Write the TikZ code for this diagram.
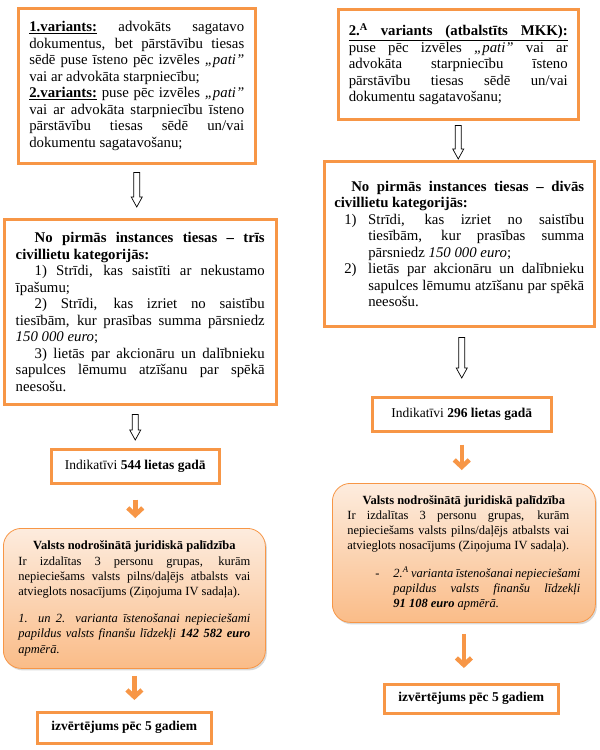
\documentclass[tikz,border=0pt]{standalone}
\usepackage{fontspec}
\setmainfont{Liberation Serif}
\usepackage{tikz}
\usetikzlibrary{arrows.meta,shadows,calc}
\definecolor{boxorange}{RGB}{247,150,70}
\definecolor{peachtop}{RGB}{253,236,222}
\definecolor{peachbot}{RGB}{250,188,136}
\newcommand{\ind}{\hspace*{19pt}}

\begin{document}
\hyphenpenalty=10000 \exhyphenpenalty=10000 \tolerance=9999
\begin{tikzpicture}[x=1pt,y=-1pt,
  var/.style={draw=boxorange,line width=2.5pt,fill=white,anchor=north west,align=justify,inner ysep=0pt,font=\fontsize{14.8pt}{16.5pt}\selectfont},
  cnt/.style={draw=boxorange,line width=2.5pt,fill=white,anchor=north west,align=center,inner sep=0pt,font=\fontsize{13.5pt}{16pt}\selectfont},
  lp/.style={draw=boxorange,line width=0.8pt,rounded corners=18pt,top color=peachtop,bottom color=peachbot,
    drop shadow={shadow xshift=1.5pt,shadow yshift=-2pt,opacity=0.3},anchor=north west,align=justify,inner ysep=0pt,
    font=\fontsize{12.5pt}{15.2pt}\selectfont},
  ha/.style={line width=0.7pt,to path={let \p1=(\tikztostart), \p2=(\tikztotarget) in
    (\x1-3pt,\y1) -- (\x1-3pt,\y2+10pt) -- (\x1-5.5pt,\y2+10pt) -- (\x1,\y2) -- (\x1+5.5pt,\y2+10pt) -- (\x1+3pt,\y2+10pt) -- (\x1+3pt,\y1) -- cycle}},
  oa/.style={draw=boxorange,line width=4.5pt,-{Straight Barb[length=7pt,width=15pt]}}]
  \useasboundingbox (0,0) rectangle (600,750);
  % left column
  \node[var,text width=215pt,inner xsep=11pt,minimum height=155pt] (v1) at (17,7) {\parindent=0pt
    \underline{\textbf{1.variants:}} advokāts sagatavo\linebreak
    dokumentus, bet pārstāvību tiesas\linebreak
    sēdē puse īsteno pēc izvēles \textit{„pati”}\linebreak
    vai ar advokāta starpniecību;\par
    \underline{\textbf{2.variants:}} puse pēc izvēles \textit{„pati”}\linebreak
    vai ar advokāta starpniecību īsteno\linebreak
    pārstāvību tiesas sēdē un/vai\linebreak
    dokumentu sagatavošanu;\par\vspace*{12pt}};
  \node[var,text width=249pt,inner xsep=11.5pt,minimum height=185pt] (cat1) at (3,218) {\parindent=0pt
    \ind\textbf{No pirmās instances tiesas – trīs\linebreak civillietu kategorijās:}\par
    \ind 1) Strīdi, kas saistīti ar nekustamo\linebreak īpašumu;\par
    \ind 2) Strīdi, kas izriet no saistību\linebreak tiesībām, kur prasības summa pārsniedz\linebreak \textit{150 000 euro};\par
    \ind 3) lietās par akcionāru un dalībnieku\linebreak sapulces lēmumu atzīšanu par spēkā\linebreak neesošu.\par\vspace*{5pt}};
  \node[cnt,minimum width=168pt,minimum height=34pt] (n1) at (50,448) {Indikatīvi \textbf{544 lietas gadā}};
  \node[lp,text width=232pt,inner xsep=15pt,minimum height=140pt] (lp1) at (3,528) {\parindent=0pt
    {\centering\textbf{Valsts nodrošinātā juridiskā palīdzība}\par}
    Ir izdalītas 3 personu grupas, kurām\linebreak
    nepieciešams valsts pilns/daļējs atbalsts vai\linebreak
    atvieglots nosacījums (Ziņojuma IV sadaļa).\par
    \vspace{12pt}
    \textit{1. un 2. varianta īstenošanai nepieciešami\linebreak
    papildus valsts finanšu līdzekļi \textbf{142 582 euro}\linebreak
    apmērā.}\par\vspace*{4pt}};
  \node[cnt,minimum width=174pt,minimum height=31pt,font=\fontsize{13.5pt}{16pt}\selectfont\bfseries] (ev1) at (36,711) {izvērtējums pēc 5 gadiem};
  % right column
  \node[var,text width=219pt,inner xsep=10.5pt,minimum height=110pt] (v2) at (337,8) {\parindent=0pt
    \underline{\makebox[\hsize][s]{\textbf{2.\textsuperscript{A} variants (atbalstīts MKK):}}}\par
    puse pēc izvēles \textit{„pati”} vai ar\linebreak
    advokāta starpniecību īsteno\linebreak
    pārstāvību tiesas sēdē un/vai\linebreak
    dokumentu sagatavošanu;\par\vspace*{18pt}};
  \node[var,text width=250pt,inner xsep=10pt,minimum height=165pt] (cat2) at (323,160) {\parindent=0pt
    \hspace*{17pt}\textbf{No pirmās instances tiesas – divās\linebreak civillietu kategorijās:}\par
    {\hangindent=34pt\hangafter=1\hspace*{10pt}\makebox[24pt][l]{1)}Strīdi, kas izriet no saistību\linebreak
    tiesībām, kur prasības summa\linebreak pārsniedz \textit{150 000 euro};\par}
    {\hangindent=34pt\hangafter=1\hspace*{10pt}\makebox[24pt][l]{2)}lietās par akcionāru un dalībnieku\linebreak
    sapulces lēmumu atzīšanu par spēkā\linebreak neesošu.\par}\vspace*{16pt}};
  \node[cnt,minimum width=179pt,minimum height=34pt] (n2) at (371,396) {Indikatīvi \textbf{296 lietas gadā}};
  \node[lp,text width=233pt,inner xsep=15pt,minimum height=139pt] (lp2) at (332,483) {\parindent=0pt
    {\centering\textbf{Valsts nodrošinātā juridiskā palīdzība}\par}
    {\rightskip=11pt Ir izdalītas 3 personu grupas, kurām\linebreak
    nepieciešams valsts pilns/daļējs atbalsts vai\linebreak
    atvieglots nosacījums (Ziņojuma IV sadaļa).\par}
    \vspace{12pt}
    {\hangindent=46pt\hangafter=1\hspace*{28pt}\makebox[18pt][l]{-}\textit{2.\textsuperscript{A} varianta īstenošanai nepieciešami\linebreak
    papildus valsts finanšu līdzekļi\linebreak
    \textbf{91 108 euro} apmērā.}\par}\vspace*{6pt}};
  \node[cnt,minimum width=174pt,minimum height=29pt,font=\fontsize{13.5pt}{16pt}\selectfont\bfseries] (ev2) at (383,683) {izvērtējums pēc 5 gadiem};
  % connectors
  \draw[ha] ([yshift=-8pt]v1.south) to ([yshift=11pt]v1.south |- cat1.north);
  \draw[ha] ([yshift=-9pt]cat1.south -| n1.north) to ([yshift=8pt]n1.north);
  \draw[oa,shorten <=15pt,shorten >=10pt] (n1.south) -- (n1.south |- lp1.north);
  \draw[oa,shorten <=7pt,shorten >=11pt] (lp1.south) -- (lp1.south |- ev1.north);
  \draw[ha] ([yshift=-5pt]v2.south) to ([yshift=1pt]v2.south |- cat2.north);
  \draw[ha] ([yshift=-10pt]cat2.south -| n2.north) to ([yshift=18pt]n2.north);
  \draw[oa,shorten <=12pt,shorten >=13pt] (n2.south) -- (n2.south |- lp2.north);
  \draw[oa,shorten <=11pt,shorten >=15pt] (lp2.south) -- (lp2.south |- ev2.north);
\end{tikzpicture}
\end{document}
